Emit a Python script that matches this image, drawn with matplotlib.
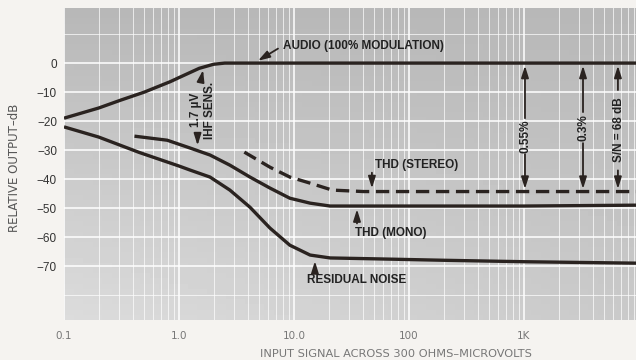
import numpy as np
import matplotlib
matplotlib.use("Agg")
import matplotlib.pyplot as plt
from matplotlib.ticker import FixedLocator, LogLocator, NullFormatter

# ---------------- data ----------------
audio_uv = [0.1, 0.2, 0.31, 0.5, 0.84, 1.0, 1.5, 2.0, 2.5, 9420]
audio_db = [-19, -15.5, -12.8, -10, -6.4, -5, -1.8, -0.4, 0, 0]

noise_uv = [0.1, 0.2, 0.45, 1.0, 1.25, 1.86, 2.77, 4.14, 6.18, 9.2, 13.8, 20.6, 50, 200, 1000, 9420]
noise_db = [-22, -25.5, -30.8, -35.5, -36.9, -39.3, -43.8, -49.7, -56.9, -62.8, -66.2, -67.2, -67.5, -68, -68.5, -69]

mono_uv = [0.41, 0.79, 1.25, 1.86, 2.77, 4.14, 6.18, 9.2, 13.8, 20.6, 100, 1000, 9420]
mono_db = [-25.2, -26.6, -29.3, -31.7, -35.2, -39.3, -43.1, -46.6, -48.3, -49.3, -49.3, -49.3, -49]

stereo_uv = [3.7, 6.18, 9.2, 13.8, 21.5, 40, 100, 1000, 9420]
stereo_db = [-30.7, -35.9, -39.3, -41.4, -43.8, -44.3, -44.3, -44.3, -44.3]

xtick_vals = [0.1, 1, 10, 100, 1000]
xtick_labels = ["0.1", "1.0", "10.0", "100", "1K"]
ytick_vals = [0, -10, -20, -30, -40, -50, -60, -70]
ytick_labels = ["0", "\u221210", "\u221220", "\u221230", "\u221240", "\u221250", "\u221260", "\u221270"]

# measurement arrows: x position, label, top dB, bottom dB
meas_x = [1020, 3260, 6560]
meas_labels = ["0.55%", "0.3%", "S/N = 68 dB"]
meas_top = [0, 0, 0]
meas_bottom = [-44.3, -44.3, -44.3]

# ---------------- styling ----------------
INK = "#2a2320"
FONT = ["Liberation Sans Narrow", "Liberation Sans", "DejaVu Sans"]
plt.rcParams["font.family"] = FONT

fig = plt.figure(figsize=(6.36, 3.6), dpi=100)
fig.patch.set_facecolor("#f5f3f0")
ax = fig.add_axes([64 / 636, 40 / 360, 572 / 636, 312 / 360])

ax.set_xscale("log")
ax.set_xlim(0.1, 9420)
ax.set_ylim(-88.6, 19)

# halftone-like background shade (darker at top, lighter at lower left)
yy, xx = np.mgrid[0:1:60j, 0:1:60j]
shade = 0.72 + 0.14 * yy * (1 - 0.5 * xx)
ax.imshow(shade, cmap="gray", vmin=0, vmax=1, extent=[0, 1, 0, 1],
          transform=ax.transAxes, aspect="auto", zorder=0, origin="upper")

for s in ax.spines.values():
    s.set_visible(False)

# grid
ax.xaxis.set_major_locator(FixedLocator(xtick_vals))
ax.xaxis.set_minor_locator(LogLocator(base=10, subs=np.arange(2, 10)))
ax.xaxis.set_minor_formatter(NullFormatter())
ax.set_xticklabels(xtick_labels)
ax.set_yticks(ytick_vals)
ax.set_yticklabels(ytick_labels)
ax.set_yticks([10, -80], minor=True)
ax.grid(which="major", axis="both", color="white", lw=1.3, alpha=0.85, zorder=1)
ax.grid(which="minor", axis="both", color="white", lw=0.7, alpha=0.7, zorder=1)
ax.set_axisbelow(True)
ax.tick_params(which="both", length=0)
ax.tick_params(axis="x", pad=8, labelsize=8.5, labelcolor="#777777")
for t in ax.get_xticklabels():
    t.set_family(["DejaVu Sans"])
    t.set_fontsize(7.5)
ax.tick_params(axis="y", pad=5, labelsize=8.5, labelcolor="#333333")

# curves
lw = 2.4
ax.plot(audio_uv, audio_db, color=INK, lw=lw, zorder=3, solid_capstyle="butt")
ax.plot(noise_uv, noise_db, color=INK, lw=lw, zorder=3, solid_capstyle="butt")
ax.plot(mono_uv, mono_db, color=INK, lw=lw, zorder=3, solid_capstyle="butt")
ax.plot(stereo_uv, stereo_db, color=INK, lw=lw, zorder=3, dashes=(4.0, 2.0))

arrow_kw = dict(arrowstyle="-|>,head_length=0.7,head_width=0.22", color=INK, lw=1.3,
                shrinkA=0, shrinkB=0)
txt_kw = dict(color="#222222", fontsize=8.5, fontweight="bold")

# curve labels
ax.text(8.0, 6.0, "AUDIO (100% MODULATION)", ha="left", va="center", zorder=4, **txt_kw)
ax.annotate("", xy=(4.86, 0.8), xytext=(7.26, 5.0), arrowprops=arrow_kw, zorder=4)

ax.text(50.6, -35.2, "THD (STEREO)", ha="left", va="center", zorder=4, **txt_kw)
ax.annotate("", xy=(47.6, -43.2), xytext=(47.6, -37.8), arrowprops=arrow_kw, zorder=4)

ax.text(33.9, -58.6, "THD (MONO)", ha="left", va="center", zorder=4, **txt_kw)
ax.annotate("", xy=(35.3, -50.4), xytext=(35.3, -55.3), arrowprops=arrow_kw, zorder=4)

ax.text(13.0, -74.8, "RESIDUAL NOISE", ha="left", va="center", zorder=4, **txt_kw)
ax.annotate("", xy=(15.2, -68.3), xytext=(15.2, -72.2), arrowprops=arrow_kw, zorder=4)

# IHF sensitivity
ax.text(1.62, -16.2, "1.7 \u00b5V\nIHF SENS.", rotation=90, ha="center", va="center",
        multialignment="center", linespacing=1.3, zorder=4, **txt_kw)
ax.annotate("", xy=(1.62, -2.4), xytext=(1.56, -5.6), arrowprops=arrow_kw, zorder=4)
ax.annotate("", xy=(1.45, -28.4), xytext=(1.45, -25.6), arrowprops=arrow_kw, zorder=4)

# measurement arrows
gaps = [(-19.0, -31.4), (-16.9, -27.6), (-9.3, -37.0)]
centers = [-25.2, -22.2, -23.1]
for xv, lab, top, bot, (g1, g2), c in zip(meas_x, meas_labels, meas_top, meas_bottom, gaps, centers):
    ax.annotate("", xy=(xv, top - 0.9), xytext=(xv, g1), arrowprops=arrow_kw, zorder=4)
    ax.annotate("", xy=(xv, bot + 0.9), xytext=(xv, g2), arrowprops=arrow_kw, zorder=4)
    ax.text(xv * 1.02, c, lab, rotation=90, ha="center", va="center", zorder=4, **txt_kw)

# axis titles
fig.text(15 / 636, 1 - 168 / 360, "RELATIVE OUTPUT\u2013dB", rotation=90, ha="center",
         va="center", fontsize=8.5, color="#555555", family=["DejaVu Sans"])
fig.text(396 / 636, 1 - 354 / 360, "INPUT SIGNAL ACROSS 300 OHMS\u2013MICROVOLTS",
         ha="center", va="center", fontsize=8.2, color="#777777", family=["DejaVu Sans"])

fig.savefig("out.png", dpi=100, facecolor=fig.get_facecolor())
